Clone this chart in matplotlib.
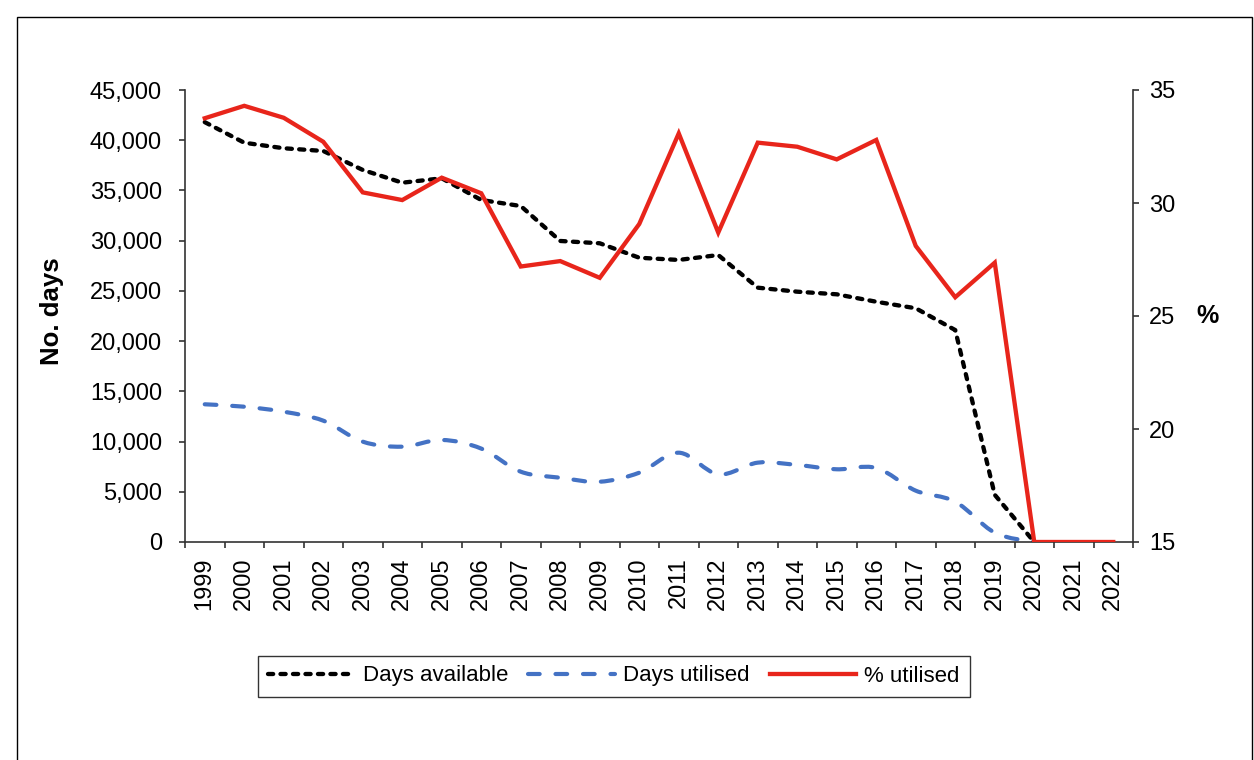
import matplotlib
matplotlib.use("Agg")
import matplotlib.pyplot as plt
import numpy as np
from matplotlib.path import Path
from matplotlib.patches import PathPatch, Rectangle
from matplotlib.lines import Line2D

plt.rcParams['font.family'] = ['Liberation Sans', 'DejaVu Sans']

years = [str(y) for y in range(1999, 2023)]
days_available = [41800, 39750, 39200, 38930, 37040, 35770, 36210, 34050, 33450, 29970,
                  29740, 28300, 28080, 28570, 25320, 24920, 24660, 23920, 23270, 21100,
                  4700, 0, np.nan, np.nan]
days_utilised = [13710, 13470, 12970, 12080, 9990, 9490, 10160, 9300, 7000, 6400,
                 6000, 6900, 8890, 6740, 7900, 7670, 7240, 7370, 5110, 4010,
                 930, 0, np.nan, np.nan]
pct_utilised = [33.75, 34.3, 33.77, 32.71, 30.47, 30.13, 31.12, 30.43, 27.19, 27.43,
                26.69, 29.07, 33.08, 28.69, 32.67, 32.49, 31.93, 32.79, 28.1, 25.83,
                27.36, 15, 15, 15]
left_ticks = [0, 5000, 10000, 15000, 20000, 25000, 30000, 35000, 40000, 45000]
right_ticks = [15, 20, 25, 30, 35]

W, H = 1254, 760
fig = plt.figure(figsize=(W / 100, H / 100), dpi=100)
ax = fig.add_axes([185 / W, 1 - 542 / H, (1133 - 185) / W, (542 - 90) / H])
ax2 = ax.twinx()

x = np.arange(len(years))
FS = 17
BLACK_LS = (0, (1.2, 1.7))
BLUE_LS = (0, (2.8, 3.8))

# Black dotted line
ax.plot(x, days_available, color='black', lw=3.1, linestyle=BLACK_LS,
        dash_capstyle='round', zorder=3)

# Blue smoothed dashed line (cubic Bezier through the data points)
bu = np.array(days_utilised, dtype=float)
valid = ~np.isnan(bu)
px = x[valid].astype(float)
py = bu[valid]
n = len(px)
verts = [(px[0], py[0])]
codes = [Path.MOVETO]
for i in range(n - 1):
    p0 = np.array([px[max(i - 1, 0)], py[max(i - 1, 0)]])
    p1 = np.array([px[i], py[i]])
    p2 = np.array([px[i + 1], py[i + 1]])
    p3 = np.array([px[min(i + 2, n - 1)], py[min(i + 2, n - 1)]])
    c1 = p1 + (p2 - p0) / 6.0
    c2 = p2 - (p3 - p1) / 6.0
    verts += [tuple(c1), tuple(c2), tuple(p2)]
    codes += [Path.CURVE4, Path.CURVE4, Path.CURVE4]
patch = PathPatch(Path(verts, codes), facecolor='none', edgecolor='#4472C4', lw=3.0,
                  linestyle=BLUE_LS, capstyle='round', zorder=2)
ax.add_patch(patch)

# Red line on right axis
ax2.plot(x, pct_utilised, color='#E8251B', lw=3.1, solid_joinstyle='miter', zorder=4)

ax.set_xlim(-0.5, len(years) - 0.5)
ax.set_ylim(0, 45000)
ax2.set_ylim(15, 35)

ax.set_xticks(x)
ax.set_xticklabels(years, rotation=90, fontsize=FS)
ax.set_xticks(np.arange(-0.5, len(years)), minor=True)
ax.tick_params(axis='x', which='major', length=0, pad=11)
ax.tick_params(axis='x', which='minor', length=4.5, width=1.2, direction='out', color='#333333')

ax.set_yticks(left_ticks)
ax.set_yticklabels([f"{v:,}" for v in left_ticks], fontsize=FS)
ax.tick_params(axis='y', length=4.5, width=1.2, direction='out', color='#333333', pad=12)
ax2.set_yticks(right_ticks)
ax2.set_yticklabels([str(v) for v in right_ticks], fontsize=FS)
ax2.tick_params(axis='y', length=4.5, width=1.2, direction='out', color='#333333', pad=7)

for a in (ax, ax2):
    a.spines['top'].set_visible(False)
    for s in ('left', 'right', 'bottom'):
        a.spines[s].set_linewidth(1.2)
        a.spines[s].set_color('#333333')
ax2.spines['left'].set_visible(False)
ax2.spines['bottom'].set_visible(False)
ax.spines['right'].set_visible(False)

fig.text(52.5 / W, 1 - 311.5 / H, 'No. days', rotation=90, fontsize=18.5, fontweight='bold',
         ha='center', va='center')
fig.text(1207.5 / W, 1 - 316 / H, '%', fontsize=18, fontweight='bold', ha='center', va='center')

handles = [
    Line2D([], [], color='black', lw=3.1, linestyle=BLACK_LS, dash_capstyle='round'),
    Line2D([], [], color='#4472C4', lw=3.0, linestyle=BLUE_LS, dash_capstyle='round'),
    Line2D([], [], color='#E8251B', lw=3.1),
]
leg = fig.legend(handles, ['Days available', 'Days utilised', '% utilised'],
                 loc='center', bbox_to_anchor=(614 / W, 1 - 676 / H), ncol=3,
                 fontsize=16, frameon=True, fancybox=False, edgecolor='black',
                 handlelength=3.9, handletextpad=0.36, columnspacing=0.9,
                 borderpad=0.45, borderaxespad=0)
leg.get_frame().set_linewidth(1.0)

fig.patches.append(Rectangle((17 / W, -0.05), (1252 - 17) / W, 1.05 - 17 / H,
                             transform=fig.transFigure, fill=False, edgecolor='black',
                             lw=1.0))

fig.savefig('out.png', dpi=100)
